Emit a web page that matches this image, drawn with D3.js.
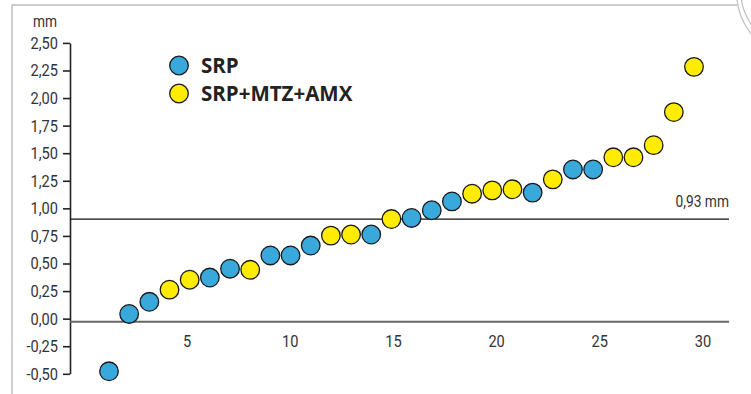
<!DOCTYPE html>
<html>
<head>
<meta charset="utf-8">
<script src="https://cdn.jsdelivr.net/npm/d3@7"></script>
<style>
  body { margin: 0; background: #fff; }
  svg { display: block; }
</style>
</head>
<body>
<svg id="chart"></svg>
<script>
var width = 751,
    height = 394;

// patient number (sorted by change) and attachment gain in mm
var patients = d3.range(1, 31);
var values = [-0.45, 0.07, 0.18, 0.29, 0.38, 0.40, 0.48, 0.47, 0.60, 0.60,
              0.69, 0.78, 0.79, 0.79, 0.93, 0.94, 1.01, 1.09, 1.16, 1.19,
              1.20, 1.17, 1.29, 1.38, 1.38, 1.49, 1.49, 1.60, 1.90, 2.31];
var groups = ["SRP", "SRP", "SRP", "SRP+MTZ+AMX", "SRP+MTZ+AMX", "SRP", "SRP", "SRP+MTZ+AMX", "SRP", "SRP",
              "SRP", "SRP+MTZ+AMX", "SRP+MTZ+AMX", "SRP", "SRP+MTZ+AMX", "SRP", "SRP", "SRP", "SRP+MTZ+AMX", "SRP+MTZ+AMX",
              "SRP+MTZ+AMX", "SRP", "SRP+MTZ+AMX", "SRP", "SRP", "SRP+MTZ+AMX", "SRP+MTZ+AMX", "SRP+MTZ+AMX", "SRP+MTZ+AMX", "SRP+MTZ+AMX"];
var seriesNames = ["SRP", "SRP+MTZ+AMX"];
var seriesColors = ["#39a9dc", "#ffec00"];
var yTicks = [-0.5, -0.25, 0, 0.25, 0.5, 0.75, 1, 1.25, 1.5, 1.75, 2, 2.25, 2.5];
var xTicks = [5, 10, 15, 20, 25, 30];
var threshold = 0.93;

var squeeze = 0.86; // narrow look of the original's condensed face

var svg = d3.select("#chart").attr("width", width).attr("height", height);

// condensed text: scale horizontally, keep anchor point in place
function condensed(sel, px, size) {
    sel.attr("x", px / squeeze)
        .attr("transform", "scale(" + squeeze + ",1)")
        .style("font-family", "Roboto, sans-serif")
        .style("font-size", size + "px")
        .style("fill", "#333");
}

// page frame
svg.append("path")
    .attr("d", "M12,394 L12,5 L737,5")
    .style("fill", "none").style("stroke", "#bdbdbd").style("stroke-width", 1.5);
svg.append("path")
    .attr("d", "M737,0 Q739,18 751,34")
    .style("fill", "none").style("stroke", "#bdbdbd").style("stroke-width", 1.2);
svg.append("path")
    .attr("d", "M741.5,0 Q743,12 751,24")
    .style("fill", "none").style("stroke", "#bdbdbd").style("stroke-width", 1.2);

var x = d3.scaleLinear().domain([1, 30]).range([109, 694]);
var xAxisScale = d3.scaleLinear().domain([5, 30]).range([186.5, 702.5]);
var y = d3.scaleLinear().domain([-0.5, 2.5]).range([376.8, 45.9]);
var color = d3.scaleOrdinal().domain(seriesNames).range(seriesColors);
var fmt = function(d) { return d3.format(".2f")(d).replace(".", ",").replace("−", "-"); };

// y axis (labels sit a little above the data baseline in the original)
var yAxis = svg.append("g")
    .attr("transform", "translate(70,-3)")
    .call(d3.axisLeft(y).tickValues(yTicks).tickFormat(fmt).tickSize(7).tickSizeOuter(0));
yAxis.select(".domain").style("stroke", "#222").style("stroke-width", 1.6);
yAxis.selectAll(".tick line").style("stroke", "#222").style("stroke-width", 1.6);
yAxis.selectAll(".tick text").call(condensed, -12, 17);

svg.append("text")
    .attr("y", 27)
    .attr("text-anchor", "middle")
    .text("mm")
    .call(condensed, 45, 16);

// x axis at zero
svg.append("line")
    .attr("x1", 70).attr("x2", 729)
    .attr("y1", y(0)).attr("y2", y(0))
    .style("stroke", "#666").style("stroke-width", 2);

var xAxis = svg.append("g")
    .attr("transform", "translate(0," + y(0) + ")")
    .call(d3.axisBottom(xAxisScale).tickValues(xTicks).tickSize(0));
xAxis.select(".domain").remove();
xAxis.selectAll(".tick text")
    .attr("dy", 0).attr("y", 25)
    .call(condensed, 0, 17);

// threshold line
svg.append("line")
    .attr("x1", 70).attr("x2", 729)
    .attr("y1", y(threshold)).attr("y2", y(threshold))
    .style("stroke", "#111").style("stroke-width", 1.3);
svg.append("text")
    .attr("y", y(threshold) - 12)
    .attr("text-anchor", "end")
    .text("0,93 mm")
    .call(condensed, 729, 16);

// points
svg.selectAll(".point").data(patients)
    .enter()
    .append("circle")
        .attr("class", "point")
        .attr("cx", function(d) { return x(d); })
        .attr("cy", function(d, i) { return y(values[i]); })
        .attr("r", 9.3)
        .style("stroke", "#1a1a1a")
        .style("stroke-width", 1.3)
        .style("fill", function(d, i) { return color(groups[i]); });

// legend
var legend = svg.selectAll(".legend").data(seriesNames)
    .enter()
    .append("g")
        .attr("class", "legend")
        .attr("transform", function(d, i) { return "translate(179," + (65.5 + i * 28) + ")"; });
legend.append("circle")
    .attr("r", 9.3)
    .style("stroke", "#1a1a1a")
    .style("stroke-width", 1.3)
    .style("fill", function(d) { return color(d); });
legend.append("text")
    .attr("x", 22).attr("y", 7.5)
    .style("font-family", "'Open Sans', sans-serif")
    .style("font-weight", "bold")
    .style("font-size", "20.5px")
    .style("fill", "#222")
    .text(function(d) { return d; });
</script>
</body>
</html>
